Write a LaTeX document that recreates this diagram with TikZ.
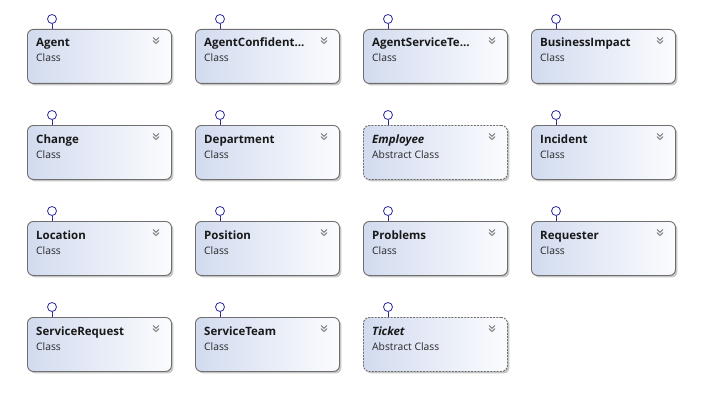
\documentclass[tikz,border=0pt]{standalone}
\usepackage{fontspec}
\setmainfont{Open Sans}
\usetikzlibrary{shadows,calc}
\definecolor{bordergray}{HTML}{6E6E6E}
\definecolor{leftblue}{HTML}{D2DBEF}
\definecolor{rightwhite}{HTML}{FBFCFE}
\definecolor{lollipop}{HTML}{2A2A9A}
\definecolor{chev}{HTML}{808080}
\definecolor{shadowgray}{HTML}{C6C6C6}
\tikzset{
  classbox/.style={draw=bordergray, line width=0.9pt, rounded corners=6pt,
    left color=leftblue, right color=rightwhite, minimum width=144pt,
    minimum height=54pt, inner sep=0pt, anchor=north west,
    drop shadow={shadow xshift=2pt, shadow yshift=-2pt, fill=shadowgray, opacity=1}},
  abstractbox/.style={classbox, dashed, dash pattern=on 2pt off 1.2pt},
  lolli/.style={circle, draw=lollipop, fill=white, line width=0.8pt, minimum size=9pt, inner sep=0pt},
  stem/.style={draw=lollipop, line width=0.8pt},
  titletext/.style={anchor=base west, font=\fontsize{11.5}{13}\selectfont\bfseries, inner sep=0pt, text=black!90},
  subtext/.style={anchor=base west, font=\fontsize{10.3}{13}\selectfont, inner sep=0pt, text=black!85},
  chevline/.style={draw=chev, line width=1pt}
}
\newcommand\classnode[6]{%
  % #1 name, #2 x, #3 y, #4 title, #5 subtitle, #6 box style
  \node[#6] (#1) at (#2,#3) {};
  \node[lolli] (#1c) at ($(#2,#3)+(25,-10)$) {};
  \draw[stem] (#1c.south) -- (#1c.south |- #1.north);
  \node[titletext] (#1t) at ($(#2,#3)+(9,18)$) {#4};
  \node[subtext] (#1s) at ($(#2,#3)+(9,33)$) {#5};
  \coordinate (#1k) at ($(#2,#3)+(129,8.5)$);
  \draw[chevline] ($(#1k)+(-3,0)$) -- ($(#1k)+(0,2.8)$) -- ($(#1k)+(3,0)$);
  \draw[chevline] ($(#1k)+(-3,3.2)$) -- ($(#1k)+(0,6)$) -- ($(#1k)+(3,3.2)$);
}
\begin{document}
\begin{tikzpicture}[x=1pt,y=-1pt]
\useasboundingbox[fill=white] (0,0) rectangle (711,401);
\classnode{agent}{27}{29}{Agent}{Class}{classbox}
\classnode{agentconf}{195}{29}{AgentConfident...}{Class}{classbox}
\classnode{agentst}{363}{29}{AgentServiceTe...}{Class}{classbox}
\classnode{bimpact}{531}{29}{BusinessImpact}{Class}{classbox}
\classnode{change}{27}{125}{Change}{Class}{classbox}
\classnode{dept}{195}{125}{Department}{Class}{classbox}
\classnode{employee}{363}{125}{\itshape Employee}{Abstract Class}{abstractbox}
\classnode{incident}{531}{125}{Incident}{Class}{classbox}
\classnode{location}{27}{221}{Location}{Class}{classbox}
\classnode{position}{195}{221}{Position}{Class}{classbox}
\classnode{problems}{363}{221}{Problems}{Class}{classbox}
\classnode{requester}{531}{221}{Requester}{Class}{classbox}
\classnode{sreq}{27}{317}{ServiceRequest}{Class}{classbox}
\classnode{steam}{195}{317}{ServiceTeam}{Class}{classbox}
\classnode{ticket}{363}{317}{\itshape Ticket}{Abstract Class}{abstractbox}
\end{tikzpicture}
\end{document}
